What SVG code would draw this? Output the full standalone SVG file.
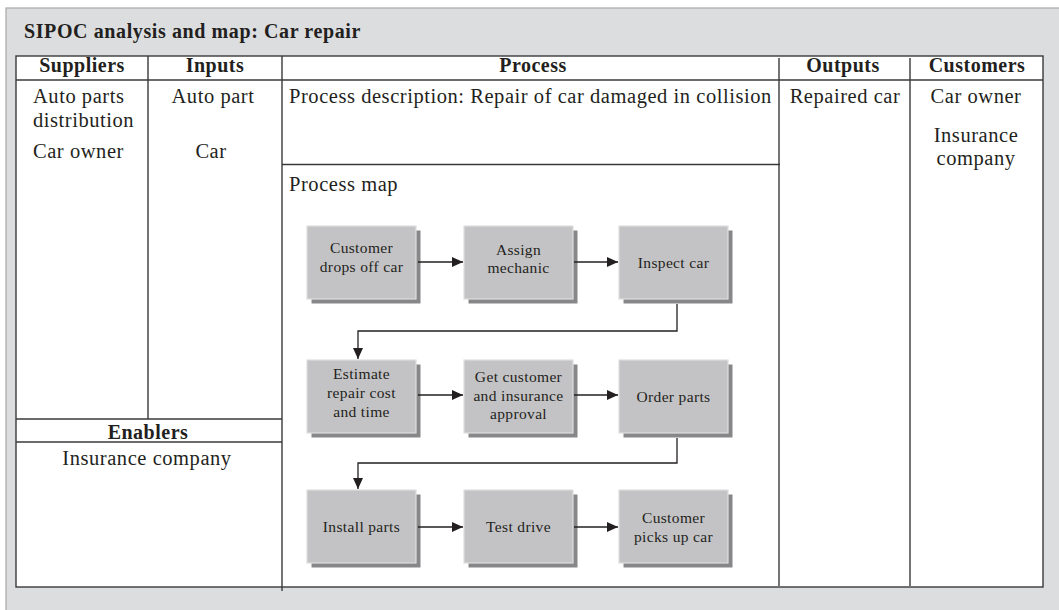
<svg xmlns="http://www.w3.org/2000/svg" width="1059" height="610" viewBox="0 0 1059 610">
  <style>
    .ser { font-family: "Liberation Serif", "Times New Roman", serif; fill: #231f20; }
    .title { font-size: 20px; font-weight: bold; letter-spacing: 0.6px; }
    .hdr { font-size: 20px; font-weight: bold; text-anchor: middle; letter-spacing: 0.5px; }
    .body { font-size: 20.5px; letter-spacing: 0.55px; }
    .mid { text-anchor: middle; }
    .box { font-size: 15.5px; text-anchor: middle; letter-spacing: 0.35px; }
    .grid { stroke: #3a3a3a; stroke-width: 1.4; fill: none; }
    .shade { fill: #87878a; }
    .face { fill: #c3c3c5; stroke: #dedede; stroke-width: 1.2; }
    .conn { stroke: #231f20; stroke-width: 1.3; fill: none; marker-end: url(#arrow); }
  </style>
  <defs>
    <marker id="arrow" markerUnits="userSpaceOnUse" markerWidth="12" markerHeight="11" refX="11" refY="5" orient="auto">
      <path d="M0,0 L11,5 L0,10 z" fill="#231f20"/>
    </marker>
  </defs>

  <!-- background panel -->
  <rect x="6" y="8" width="1060" height="610" fill="#dcdddf" stroke="#a8a8aa" stroke-width="1.2"/>
  <text class="ser title" x="24" y="38">SIPOC analysis and map: Car repair</text>

  <!-- table -->
  <g id="table">
    <rect x="16" y="56" width="1027" height="531" fill="#ffffff"/>
    <rect class="grid" x="16" y="56" width="1027" height="531"/>
    <line class="grid" x1="16" y1="80" x2="1043" y2="80"/>
    <line class="grid" x1="148" y1="56" x2="148" y2="419"/>
    <line class="grid" x1="282" y1="56" x2="282" y2="591"/>
    <line class="grid" x1="779" y1="58" x2="779" y2="586"/>
    <line class="grid" x1="910" y1="58" x2="910" y2="586"/>
    <line class="grid" x1="282" y1="164.5" x2="780" y2="164.5"/>
    <line class="grid" x1="16" y1="419" x2="282" y2="419"/>
    <line class="grid" x1="16" y1="442" x2="282" y2="442"/>
  </g>

  <!-- column headers and entries -->
  <g id="suppliers">
    <text class="ser hdr" x="82" y="72">Suppliers</text>
    <text class="ser body" x="33" y="103">Auto parts</text>
    <text class="ser body" x="33" y="127">distribution</text>
    <text class="ser body" x="33" y="158">Car owner</text>
  </g>
  <g id="inputs">
    <text class="ser hdr" x="215" y="72">Inputs</text>
    <text class="ser body mid" x="213" y="103">Auto part</text>
    <text class="ser body mid" x="211" y="158">Car</text>
  </g>
  <g id="process">
    <text class="ser hdr" x="533" y="72">Process</text>
    <text class="ser body" x="289" y="103">Process description: Repair of car damaged in collision</text>
    <text class="ser body" x="289" y="191">Process map</text>
  </g>
  <g id="outputs">
    <text class="ser hdr" x="843" y="72">Outputs</text>
    <text class="ser body mid" x="845" y="103">Repaired car</text>
  </g>
  <g id="customers">
    <text class="ser hdr" x="977" y="72">Customers</text>
    <text class="ser body mid" x="976" y="103">Car owner</text>
    <text class="ser body mid" x="976" y="142">Insurance</text>
    <text class="ser body mid" x="976" y="165">company</text>
  </g>
  <g id="enablers">
    <text class="ser hdr" x="148" y="439">Enablers</text>
    <text class="ser body mid" x="147" y="465">Insurance company</text>
  </g>

  <!-- process map steps -->
  <g id="step-drop-off">
    <rect class="shade" x="311.5" y="230.5" width="109" height="73"/>
    <rect class="face" x="307" y="226" width="109" height="73"/>
    <text class="ser box" x="361.5" y="253">Customer</text>
    <text class="ser box" x="361.5" y="272">drops off car</text>
  </g>
  <g id="step-assign">
    <rect class="shade" x="468.5" y="230.5" width="109" height="73"/>
    <rect class="face" x="464" y="226" width="109" height="73"/>
    <text class="ser box" x="518.5" y="255">Assign</text>
    <text class="ser box" x="518.5" y="273">mechanic</text>
  </g>
  <g id="step-inspect">
    <rect class="shade" x="623.5" y="230.5" width="109" height="73"/>
    <rect class="face" x="619" y="226" width="109" height="73"/>
    <text class="ser box" x="673.5" y="268">Inspect car</text>
  </g>
  <g id="step-estimate">
    <rect class="shade" x="311.5" y="364.5" width="109" height="73"/>
    <rect class="face" x="307" y="360" width="109" height="73"/>
    <text class="ser box" x="361.5" y="379">Estimate</text>
    <text class="ser box" x="361.5" y="398">repair cost</text>
    <text class="ser box" x="361.5" y="417">and time</text>
  </g>
  <g id="step-approval">
    <rect class="shade" x="468.5" y="364.5" width="109" height="73"/>
    <rect class="face" x="464" y="360" width="109" height="73"/>
    <text class="ser box" x="518.5" y="382">Get customer</text>
    <text class="ser box" x="518.5" y="400.5">and insurance</text>
    <text class="ser box" x="518.5" y="418.5">approval</text>
  </g>
  <g id="step-order">
    <rect class="shade" x="623.5" y="364.5" width="109" height="73"/>
    <rect class="face" x="619" y="360" width="109" height="73"/>
    <text class="ser box" x="673.5" y="401.5">Order parts</text>
  </g>
  <g id="step-install">
    <rect class="shade" x="311.5" y="494.5" width="109" height="73"/>
    <rect class="face" x="307" y="490" width="109" height="73"/>
    <text class="ser box" x="361.5" y="531.5">Install parts</text>
  </g>
  <g id="step-test">
    <rect class="shade" x="468.5" y="494.5" width="109" height="73"/>
    <rect class="face" x="464" y="490" width="109" height="73"/>
    <text class="ser box" x="518.5" y="531.5">Test drive</text>
  </g>
  <g id="step-pickup">
    <rect class="shade" x="623.5" y="494.5" width="109" height="73"/>
    <rect class="face" x="619" y="490" width="109" height="73"/>
    <text class="ser box" x="673.5" y="522.5">Customer</text>
    <text class="ser box" x="673.5" y="541.5">picks up car</text>
  </g>

  <!-- connectors -->
  <g id="connectors">
    <line class="conn" x1="418" y1="262" x2="463" y2="262"/>
    <line class="conn" x1="574" y1="262" x2="618" y2="262"/>
    <polyline class="conn" points="677,304 677,331 358,331 358,359"/>
    <line class="conn" x1="418" y1="395" x2="463" y2="395"/>
    <line class="conn" x1="574" y1="395" x2="618" y2="395"/>
    <polyline class="conn" points="677,438 677,463 358,463 358,489"/>
    <line class="conn" x1="418" y1="527" x2="463" y2="527"/>
    <line class="conn" x1="574" y1="527" x2="618" y2="527"/>
  </g>
</svg>
